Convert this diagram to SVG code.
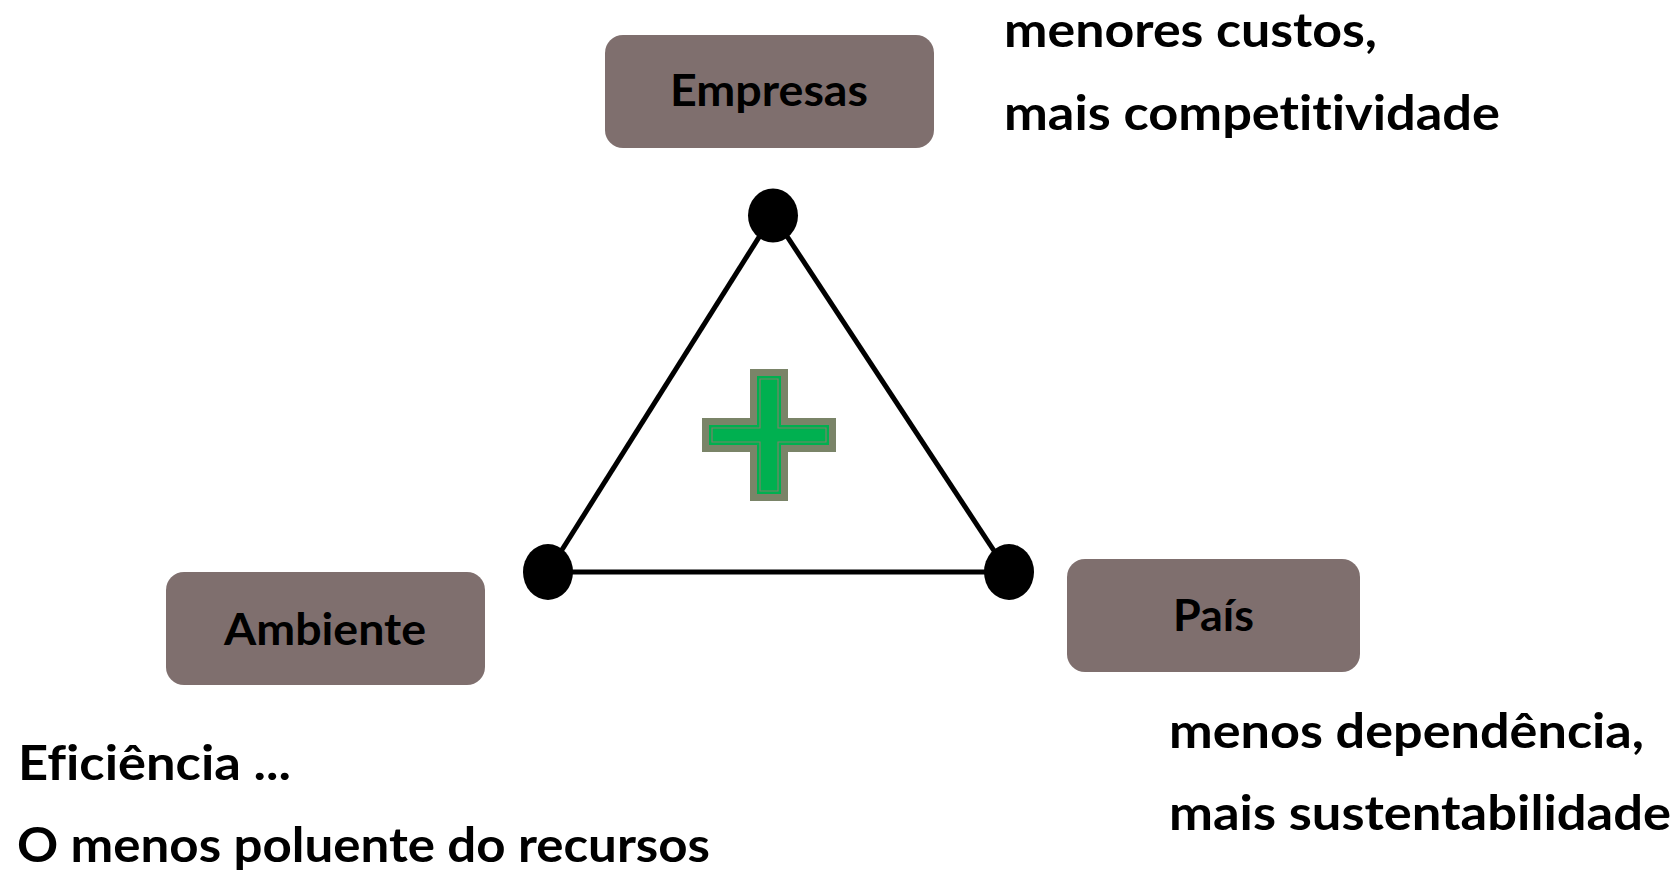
<svg xmlns="http://www.w3.org/2000/svg" width="1677" height="874" viewBox="0 0 1677 874">
  <style>
    .box { fill: #7f6f6e; }
    .lbl { font-family: Lato, "Open Sans", "Liberation Sans", sans-serif; font-weight: 700; font-size: 43px; fill: #000; text-anchor: middle; font-variant-ligatures: none; }
    .txt { font-family: Lato, "Open Sans", "Liberation Sans", sans-serif; font-weight: 700; font-size: 47px; fill: #000; font-variant-ligatures: none; }
    .edge { stroke: #000; stroke-width: 5; fill: none; }
    .dot { fill: #000; }
  </style>
  <rect width="1677" height="874" fill="#ffffff"/>

  <g id="connectors">
    <line class="edge" x1="773" y1="215" x2="548" y2="572"/>
    <line class="edge" x1="773" y1="215" x2="1008" y2="572"/>
    <line class="edge" x1="548" y1="572" x2="1008" y2="572"/>
  </g>

  <g id="dots">
    <ellipse class="dot" cx="773" cy="215.5" rx="25" ry="27"/>
    <ellipse class="dot" cx="548" cy="572" rx="25" ry="28"/>
    <ellipse class="dot" cx="1009" cy="572" rx="25" ry="28"/>
  </g>

  <g id="plus">
    <path d="M750,369 H788 V418 H836 V452 H788 V501 H750 V452 H702 V418 H750 Z" fill="#7a8468"/>
    <path d="M757,376 H781 V425 H829 V445 H781 V494 H757 V445 H709 V425 H757 Z" fill="#00b050"/>
    <path d="M760,379 H778 V428 H826 V442 H778 V491 H760 V442 H712 V428 H760 Z" fill="none" stroke="#7a8468" stroke-width="1.2"/>
  </g>

  <g id="node-empresas">
    <rect class="box" x="605" y="35" width="329" height="113" rx="18"/>
    <text class="lbl" x="769" y="106" textLength="198" lengthAdjust="spacingAndGlyphs">Empresas</text>
  </g>

  <g id="node-ambiente">
    <rect class="box" x="166" y="572" width="319" height="113" rx="18"/>
    <text class="lbl" x="325" y="645" textLength="202" lengthAdjust="spacingAndGlyphs">Ambiente</text>
  </g>

  <g id="node-pais">
    <rect class="box" x="1067" y="559" width="293" height="113" rx="18"/>
    <text class="lbl" x="1213.5" y="631" textLength="81" lengthAdjust="spacingAndGlyphs">País</text>
  </g>

  <g id="text-empresas">
    <text class="txt" x="1004" y="47" textLength="373" lengthAdjust="spacingAndGlyphs">menores custos,</text>
    <text class="txt" x="1004" y="130" textLength="496" lengthAdjust="spacingAndGlyphs">mais competitividade</text>
  </g>

  <g id="text-ambiente">
    <text class="txt" x="18" y="780" textLength="273" lengthAdjust="spacingAndGlyphs">Eficiência ...</text>
    <text class="txt" x="17" y="862" textLength="693" lengthAdjust="spacingAndGlyphs">O menos poluente do recursos</text>
  </g>

  <g id="text-pais">
    <text class="txt" x="1169" y="748" textLength="475" lengthAdjust="spacingAndGlyphs">menos dependência,</text>
    <text class="txt" x="1169" y="830" textLength="502" lengthAdjust="spacingAndGlyphs">mais sustentabilidade</text>
  </g>
</svg>
